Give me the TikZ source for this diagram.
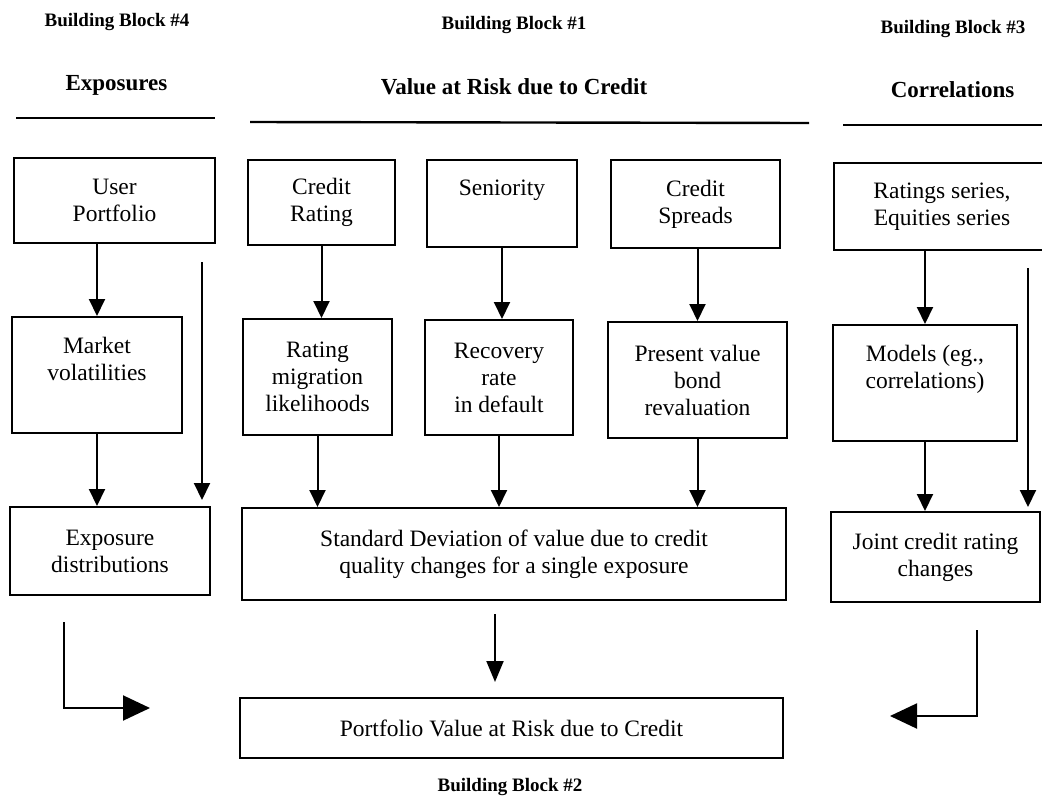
\documentclass[tikz,border=0pt]{standalone}
\usepackage{fontspec}
\setmainfont{Liberation Serif}
\usetikzlibrary{arrows.meta}
\begin{document}
\begin{tikzpicture}[x=1pt,y=-1pt,
  box/.style={draw, line width=2pt, align=center, inner sep=0pt,
              font=\fontsize{23.5}{27}\selectfont},
  heading/.style={font=\bfseries\fontsize{23}{27}\selectfont, inner sep=0pt},
  block/.style={font=\bfseries\fontsize{19}{22}\selectfont, inner sep=0pt},
  rule/.style={line width=2.4pt},
  arr/.style={line width=2pt, -{Triangle[length=17pt,width=16pt]}},
  midarr/.style={line width=2pt, -{Triangle[length=21pt,width=17pt]}},
  bigarr/.style={line width=2pt, -{Triangle[length=27pt,width=25pt]}},
]
\useasboundingbox (0,0) rectangle (1042,798);
\clip (0,0) rectangle (1042,798);

% block labels and headings
\node[block] (bb4) at (117,22) {Building Block \#4};
\node[block] (bb1) at (514,25) {Building Block \#1};
\node[block] (bb3) at (953,29) {Building Block \#3};
\node[block] (bb2) at (510,787) {Building Block \#2};

\node[heading] (hexp) at (116.5,85) {Exposures};
\node[heading] (hvar) at (514,87) {Value at Risk due to Credit};
\node[heading] (hcor) at (952.5,90) {Correlations};

\draw[rule] (16,118) -- (215,118);
\draw[rule] (250,122) -- (809,123);
\draw[rule] (843,125) -- (1042,125);

% first row
\node[box, minimum width=201pt, minimum height=85pt] (up) at (114.5,200.5) {User\\Portfolio};
\node[box, minimum width=147pt, minimum height=85pt] (cr) at (321.5,202.5) {Credit\\Rating};
\node[box, minimum width=150pt, minimum height=87pt] (sen) at (502,203.5) {\strut Seniority\\\strut};
\node[box, minimum width=169pt, minimum height=88pt] (cs) at (695.5,204) {Credit\\Spreads};
\node[box, minimum width=216pt, minimum height=87pt] (rs) at (942,206.5) {Ratings series,\\Equities series};

% second row
\node[box, minimum width=170pt, minimum height=116pt] (mv) at (97,375) {\strut Market\\volatilities\\\strut};
\node[box, minimum width=149pt, minimum height=116pt] (rm) at (317.5,377) {Rating\\migration\\likelihoods};
\node[box, minimum width=148pt, minimum height=115pt] (rec) at (499,377.5) {Recovery\\rate\\in default};
\node[box, minimum width=179pt, minimum height=116pt] (pv) at (697.5,380) {Present value\\bond\\revaluation};
\node[box, minimum width=184pt, minimum height=116pt] (mod) at (925,383) {\strut Models (eg.,\\correlations)\\\strut};

% third row
\node[box, minimum width=200pt, minimum height=88pt] (ed) at (110,551) {Exposure\\distributions};
\node[box, minimum width=544pt, minimum height=92pt] (sd) at (514,554) {Standard Deviation of value due to credit\\quality changes for a single exposure};
\node[box, minimum width=209pt, minimum height=90pt] (jc) at (935.5,557) {Joint credit rating\\changes};

% result
\node[box, minimum width=543pt, minimum height=60pt] (pvar) at (511.5,728) {Portfolio Value at Risk due to Credit};

% free ends of the bypass and merging connectors
\coordinate (lbyp) at (202,262);
\coordinate (rbyp) at (1028,268);
\coordinate (lbend) at (64,622);
\coordinate (ltip) at (150,708);
\coordinate (rbend) at (977,630);
\coordinate (rtip) at (890,716);

% connectors
\draw[arr] (up.south -| mv.north) -- (mv.north);
\draw[arr] (mv.south) -- (mv.south |- ed.north);
\draw[arr] (lbyp) -- ([yshift=6pt]lbyp |- ed.north);

\draw[arr] (cr.south) -- (cr.south |- rm.north);
\draw[arr] (rm.south) -- (rm.south |- sd.north);
\draw[arr] (sen.south) -- (sen.south |- rec.north);
\draw[arr] (rec.south) -- (rec.south |- sd.north);
\draw[arr] (pv.north |- cs.south) -- (pv.north);
\draw[arr] (pv.south) -- (pv.south |- sd.north);

\draw[arr] (mod.north |- rs.south) -- (mod.north);
\draw[arr] (mod.south) -- (mod.south |- jc.north);
\draw[arr] (rbyp) -- ([yshift=4pt]rbyp |- jc.north);

\draw[midarr] ([xshift=-19pt,yshift=-13pt]sd.south) -- ([xshift=-16.5pt,yshift=15pt]pvar.north);

\draw[bigarr] (lbend) |- (ltip);
\draw[bigarr] (rbend) |- (rtip);
\end{tikzpicture}
\end{document}
